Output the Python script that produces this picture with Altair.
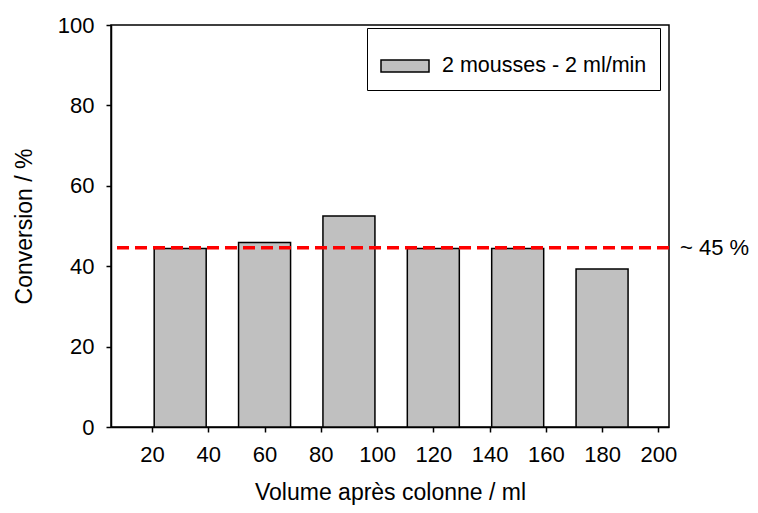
import altair as alt
import pandas as pd

volumes = [30, 60, 90, 120, 150, 180]
conversion = [44.4, 45.9, 52.5, 44.4, 44.4, 39.3]
series_name = "2 mousses - 2 ml/min"
average = 44.6
average_label = "~ 45 %"
x_ticks = [20, 40, 60, 80, 100, 120, 140, 160, 180, 200]
y_ticks = [0, 20, 40, 60, 80, 100]

FONT = "Liberation Sans"

df = pd.DataFrame({"volume": volumes, "conversion": conversion,
                   "serie": [series_name] * len(volumes)})
df_avg = pd.DataFrame({"avg": [average], "label": [average_label]})

x_scale = alt.Scale(domain=[5.4, 203.8], nice=False, zero=False, padding=0)
y_scale = alt.Scale(domain=[0, 100], nice=False)

bars = alt.Chart(df).mark_bar(size=52, stroke="black", strokeWidth=1.5).encode(
    x=alt.X("volume:Q", scale=x_scale,
            axis=alt.Axis(values=x_ticks, title="Volume après colonne / ml",
                          labelPadding=12, titlePadding=16)),
    y=alt.Y("conversion:Q", scale=y_scale,
            axis=alt.Axis(values=y_ticks, title="Conversion / %",
                          labelPadding=12, titlePadding=21)),
    fill=alt.Fill("serie:N", scale=alt.Scale(range=["#c0c0c0"]),
                  legend=alt.Legend(title=None, orient="none", legendX=256, legendY=3,
                                    strokeColor="black", padding=13,
                                    symbolType="M-1,-0.25L1,-0.25L1,0.25L-1,0.25Z",
                                    symbolSize=2304, symbolStrokeColor="black",
                                    symbolStrokeWidth=1.5, labelFontSize=21.5,
                                    labelFont=FONT, labelOffset=12, labelColor="black",
                                    labelLimit=400)),
)

rule = alt.Chart(df_avg).mark_rule(color="red", strokeWidth=3.5, strokeDash=[12, 6]).encode(
    y=alt.Y("avg:Q", scale=y_scale)
)

text = alt.Chart(df_avg).mark_text(align="left", baseline="middle", fontSize=22,
                                   font=FONT, color="black").encode(
    y=alt.Y("avg:Q", scale=y_scale),
    x=alt.value(569),
    text="label:N",
)

chart = alt.layer(bars, rule, text).properties(
    width=558, height=402, autosize="none",
    padding={"left": 103, "top": 17, "right": 81, "bottom": 78},
).configure_view(stroke="black", strokeWidth=1.5).configure_axis(
    grid=False, domainColor="black", domainWidth=1.5, tickColor="black",
    tickWidth=1.5, tickSize=5, labelFont=FONT, labelFontSize=22, labelColor="black",
    titleFont=FONT, titleFontSize=23, titleFontWeight="normal", titleColor="black",
)

chart.save("out.html", embed_options={"renderer": "svg", "actions": False})
